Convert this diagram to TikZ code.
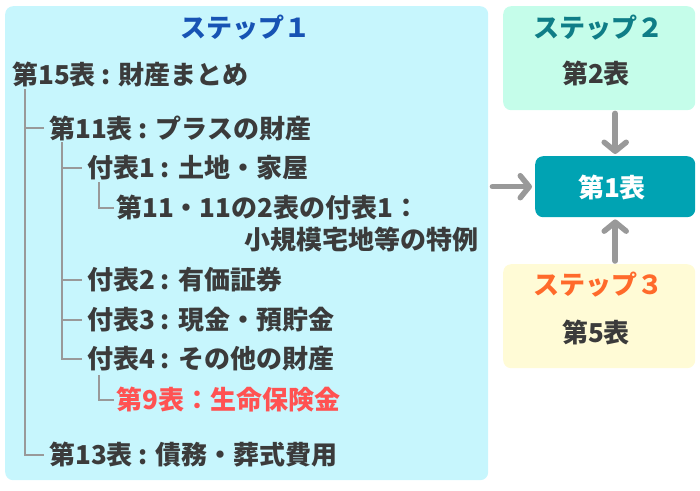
\documentclass[tikz,border=0pt]{standalone}
\usepackage{fontspec}
\setmainfont{Noto Sans CJK JP}
\usetikzlibrary{arrows.meta}
\definecolor{boxA}{HTML}{C7F6FD}
\definecolor{boxB}{HTML}{C5FDEA}
\definecolor{boxC}{HTML}{FFFBD6}
\definecolor{mainT}{HTML}{00A3B3}
\definecolor{txt}{HTML}{3B3B3B}
\definecolor{ttlA}{HTML}{1753B4}
\definecolor{ttlB}{HTML}{0F7D87}
\definecolor{ttlC}{HTML}{FF6A2B}
\definecolor{redT}{HTML}{FF5252}
\definecolor{lineG}{HTML}{999999}
\tikzset{
  panel/.style={rounded corners=8pt, inner sep=0pt, draw=none},
  lbl/.style={anchor=west, inner sep=0pt, text=txt, font=\bfseries\fontsize{26}{31}\selectfont},
  ttl/.style={inner sep=0pt, font=\bfseries\fontsize{26}{31}\selectfont},
  tree/.style={draw=lineG, line width=2pt, shorten >=5pt},
  arr/.style={draw=lineG, line width=5.5pt, line cap=round, -{Straight Barb[length=9pt,width=22pt,round]}}
}
\begin{document}
\begin{tikzpicture}[x=1pt,y=-1pt]
\path[use as bounding box] (0,0) rectangle (700,490);
% panels
\node[panel, fill=boxA, minimum width=483pt, minimum height=474pt, anchor=north west] (b1) at (5,6) {};
\node[panel, fill=boxB, minimum width=192pt, minimum height=104pt, anchor=north west] (s2) at (503,6) {};
\node[panel, fill=boxC, minimum width=192pt, minimum height=104pt, anchor=north west] (s3) at (503,264) {};
\node[panel, fill=mainT, minimum width=160pt, minimum height=61pt, anchor=north west] (t) at (535,156) {};
% titles
\node[ttl, text=ttlA] (h1) at (245,28) {ステップ１};
\node[ttl, text=ttlB] (h2) at (598,28) {ステップ２};
\node[ttl, text=txt] (h2b) at (596,73) {第2表};
\node[ttl, text=ttlC] (h3) at (598,285) {ステップ３};
\node[ttl, text=txt] (h3b) at (596,332) {第5表};
\node[ttl, text=white] (tt) at (612,187) {第1表};
% tree labels
\node[lbl] (n15) at (12,75) {第15表 : 財産まとめ};
\node[lbl] (n11) at (49,128) {第11表 : プラスの財産};
\node[lbl] (f1) at (87,168) {付表1 : 土地・家屋};
\node[lbl] (s11a) at (116,208) {第11・11の2表の付表1：};
\node[lbl, anchor=east] (s11b) at (479,240) {小規模宅地等の特例};
\node[lbl] (f2) at (87,280) {付表2 : 有価証券};
\node[lbl] (f3) at (87,320) {付表3 : 現金・預貯金};
\node[lbl] (f4) at (87,359) {付表4 : その他の財産};
\node[lbl, text=redT] (n9) at (116,400) {第9表：生命保険金};
\node[lbl] (n13) at (49,455) {第13表 : 債務・葬式費用};
% tree connectors
\coordinate (r1) at (25,89);
\coordinate (r2) at (62,142);
\coordinate (r3) at (99,182);
\coordinate (r4) at (99,375);
\draw[tree] (r1) |- (n11.west);
\draw[tree] (r1) |- (n13.west);
\draw[tree] (r2) |- (f1.west);
\draw[tree] (r2) |- (f2.west);
\draw[tree] (r2) |- (f3.west);
\draw[tree] (r2) |- (f4.west);
\draw[tree, shorten >=2pt] (r3) |- (s11a.west);
\draw[tree, shorten >=2pt] (r4) |- (n9.west);
% arrows
\draw[arr, shorten <=4pt, shorten >=3pt] (b1.east |- t.west) -- (t.west);
\draw[arr, shorten <=3pt, shorten >=2pt] (s2.south -| t.north) -- (t.north);
\draw[arr, shorten <=3pt, shorten >=2pt] (s3.north -| t.south) -- (t.south);
\end{tikzpicture}
\end{document}
